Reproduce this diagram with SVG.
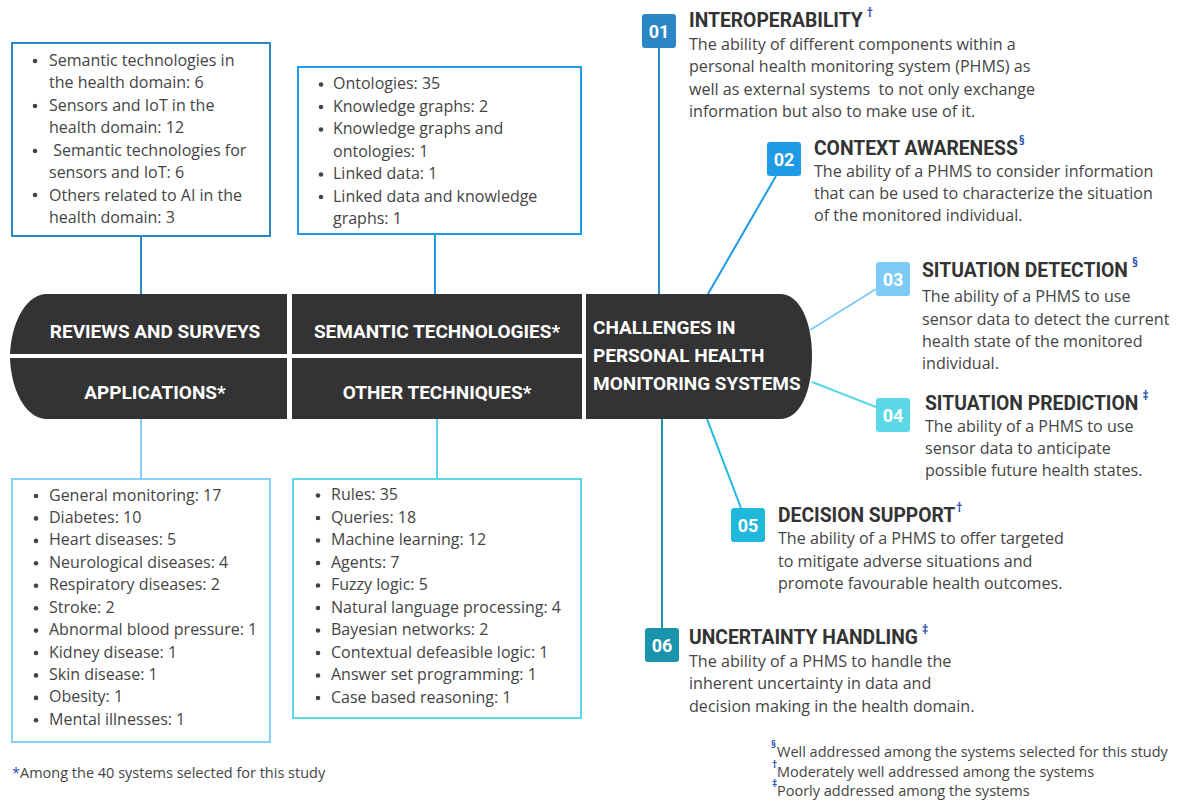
<svg xmlns="http://www.w3.org/2000/svg" width="1180" height="801" viewBox="0 0 1180 801">
<style>
.bar{fill:#333333}
.bt{font-family:Roboto,"Liberation Sans",sans-serif;font-weight:700;font-size:19px;fill:#ffffff}
.li{font-family:"Open Sans","Liberation Sans",sans-serif;font-size:16px;fill:#444444}
.bul{fill:#444444}
.ttl{font-family:Roboto,"Liberation Sans",sans-serif;font-weight:700;font-size:19.3px;fill:#333333}
.sup{font-family:"Open Sans","Liberation Sans",sans-serif;font-weight:700;font-size:12px;fill:#1f4fb5}
.desc{font-family:"Open Sans","Liberation Sans",sans-serif;font-size:16.1px;fill:#444444}
.num{font-family:Roboto,"Liberation Sans",sans-serif;font-weight:700;font-size:18px;fill:#ffffff;text-anchor:middle}
.box{fill:#ffffff;stroke-width:2}
.foot{font-family:"Open Sans","Liberation Sans",sans-serif;font-size:14.5px;fill:#444444}
.fs{font-family:"Open Sans","Liberation Sans",sans-serif;font-weight:700;font-size:10px;fill:#1f4fb5}
.con{fill:none;stroke-width:2}
</style>
<rect width="1180" height="801" fill="#ffffff"/>

<g id="connectors">
<line class="con" x1="141" y1="236" x2="141" y2="294" stroke="#2a86c4"/>
<line class="con" x1="435" y1="234" x2="435" y2="294" stroke="#1e9be6"/>
<line class="con" x1="141" y1="419" x2="141" y2="479" stroke="#87cefa"/>
<line class="con" x1="437" y1="419" x2="437" y2="479" stroke="#5ad8e6"/>
<line class="con" x1="659" y1="48" x2="659" y2="294" stroke="#2a86c4"/>
<line class="con" x1="776" y1="176" x2="708" y2="294" stroke="#1e9be6"/>
<line class="con" x1="876" y1="289" x2="810" y2="330" stroke="#7ecbf7"/>
<line class="con" x1="876" y1="407" x2="812" y2="382" stroke="#5ad8e6"/>
<line class="con" x1="741" y1="508" x2="707" y2="419" stroke="#1fb8dc"/>
<line class="con" x1="662" y1="419" x2="662" y2="628" stroke="#1a94ad"/>
</g>

<g id="reviews">
<path class="bar" d="M287,294 L45,294 C24,296 11,326 10,354 L287,354 Z"/>
<text class="bt" x="155" y="338" text-anchor="middle">REVIEWS AND SURVEYS</text>
</g>
<g id="applications">
<path class="bar" d="M287,358 L10,358 C11,388 24,417 45,419 L287,419 Z"/>
<text class="bt" x="155" y="399" text-anchor="middle">APPLICATIONS*</text>
</g>
<g id="semantic">
<rect class="bar" x="292" y="294" width="290" height="60"/>
<text class="bt" x="437" y="338" text-anchor="middle">SEMANTIC TECHNOLOGIES*</text>
</g>
<g id="other">
<rect class="bar" x="292" y="358" width="290" height="61"/>
<text class="bt" x="437" y="399" text-anchor="middle">OTHER TECHNIQUES*</text>
</g>
<g id="challenges">
<path class="bar" d="M586,294 L780,294 C800,294 812,322 812,356 C812,392 800,419 780,419 L586,419 Z"/>
<text class="bt" x="593" y="334">CHALLENGES IN</text>
<text class="bt" x="593" y="362">PERSONAL HEALTH</text>
<text class="bt" x="593" y="390">MONITORING SYSTEMS</text>
</g>

<g id="reviews-list">
<rect class="box" x="12" y="43" width="258" height="193" stroke="#2a86c4"/>
<g class="bul">
<circle cx="35" cy="61" r="2.3"/><circle cx="35" cy="106" r="2.3"/><circle cx="35" cy="151" r="2.3"/><circle cx="35" cy="195" r="2.3"/>
</g>
<text class="li" x="49" y="65.5">Semantic technologies in</text>
<text class="li" x="49" y="88">the health domain: 6</text>
<text class="li" x="49" y="110.5">Sensors and IoT in the</text>
<text class="li" x="49" y="133">health domain: 12</text>
<text class="li" x="49" y="155.5" xml:space="preserve"> Semantic technologies for</text>
<text class="li" x="49" y="178">sensors and IoT: 6</text>
<text class="li" x="49" y="200.5">Others related to AI in the</text>
<text class="li" x="49" y="223">health domain: 3</text>
</g>

<g id="semantic-list">
<rect class="box" x="298" y="67" width="283" height="167" stroke="#1e9be6"/>
<g class="bul">
<circle cx="321" cy="84.5" r="2.3"/><circle cx="321" cy="107" r="2.3"/><circle cx="321" cy="129.5" r="2.3"/><circle cx="321" cy="174.5" r="2.3"/><circle cx="321" cy="197" r="2.3"/>
</g>
<text class="li" x="333" y="89">Ontologies: 35</text>
<text class="li" x="333" y="111.5">Knowledge graphs: 2</text>
<text class="li" x="333" y="134">Knowledge graphs and</text>
<text class="li" x="333" y="156.5">ontologies: 1</text>
<text class="li" x="333" y="179">Linked data: 1</text>
<text class="li" x="333" y="201.5">Linked data and knowledge</text>
<text class="li" x="333" y="224">graphs: 1</text>
</g>

<g id="applications-list">
<rect class="box" x="12" y="479" width="258" height="263" stroke="#87cefa"/>
<g class="bul">
<circle cx="36" cy="496" r="2.3"/><circle cx="36" cy="518.4" r="2.3"/><circle cx="36" cy="540.9" r="2.3"/><circle cx="36" cy="563.3" r="2.3"/><circle cx="36" cy="585.7" r="2.3"/><circle cx="36" cy="608.2" r="2.3"/><circle cx="36" cy="630.6" r="2.3"/><circle cx="36" cy="653" r="2.3"/><circle cx="36" cy="675.4" r="2.3"/><circle cx="36" cy="697.9" r="2.3"/><circle cx="36" cy="720.3" r="2.3"/>
</g>
<text class="li" x="49" y="500.5">General monitoring: 17</text>
<text class="li" x="49" y="522.9">Diabetes: 10</text>
<text class="li" x="49" y="545.4">Heart diseases: 5</text>
<text class="li" x="49" y="567.8">Neurological diseases: 4</text>
<text class="li" x="49" y="590.2">Respiratory diseases: 2</text>
<text class="li" x="49" y="612.7">Stroke: 2</text>
<text class="li" x="49" y="635.1">Abnormal blood pressure: 1</text>
<text class="li" x="49" y="657.5">Kidney disease: 1</text>
<text class="li" x="49" y="679.9">Skin disease: 1</text>
<text class="li" x="49" y="702.4">Obesity: 1</text>
<text class="li" x="49" y="724.8">Mental illnesses: 1</text>
</g>

<g id="other-list">
<rect class="box" x="293" y="479" width="288" height="239" stroke="#5ad8e6"/>
<g class="bul">
<circle cx="318" cy="495.5" r="2.3"/><circle cx="318" cy="518" r="2.3"/><circle cx="318" cy="540.5" r="2.3"/><circle cx="318" cy="563" r="2.3"/><circle cx="318" cy="585.5" r="2.3"/><circle cx="318" cy="608" r="2.3"/><circle cx="318" cy="630.5" r="2.3"/><circle cx="318" cy="653" r="2.3"/><circle cx="318" cy="675.5" r="2.3"/><circle cx="318" cy="698" r="2.3"/>
</g>
<text class="li" x="331" y="500">Rules: 35</text>
<text class="li" x="331" y="522.5">Queries: 18</text>
<text class="li" x="331" y="545">Machine learning: 12</text>
<text class="li" x="331" y="567.5">Agents: 7</text>
<text class="li" x="331" y="590">Fuzzy logic: 5</text>
<text class="li" x="331" y="612.5">Natural language processing: 4</text>
<text class="li" x="331" y="635">Bayesian networks: 2</text>
<text class="li" x="331" y="657.5">Contextual defeasible logic: 1</text>
<text class="li" x="331" y="680">Answer set programming: 1</text>
<text class="li" x="331" y="702.5">Case based reasoning: 1</text>
</g>

<g id="c01">
<rect x="642" y="14" width="34" height="34" rx="3" fill="#2a86c4"/>
<text class="num" x="659" y="38">01</text>
<text class="ttl" x="689" y="27">INTEROPERABILITY<tspan class="sup" dx="4" dy="-10">†</tspan></text>
<text class="desc" x="689" y="49.5">The ability of different components within a</text>
<text class="desc" x="689" y="72">personal health monitoring system (PHMS) as</text>
<text class="desc" x="689" y="94.5" xml:space="preserve">well as external systems  to not only exchange</text>
<text class="desc" x="689" y="117">information but also to make use of it.</text>
</g>
<g id="c02">
<rect x="767" y="142" width="34" height="34" rx="3" fill="#1e9be6"/>
<text class="num" x="784" y="166">02</text>
<text class="ttl" x="814" y="155">CONTEXT AWARENESS<tspan class="sup" dx="1" dy="-10">§</tspan></text>
<text class="desc" x="814" y="177">The ability of a PHMS to consider information</text>
<text class="desc" x="814" y="199">that can be used to characterize the situation</text>
<text class="desc" x="814" y="221">of the monitored individual.</text>
</g>
<g id="c03">
<rect x="876" y="262" width="34" height="34" rx="3" fill="#7ecbf7"/>
<text class="num" x="893" y="286">03</text>
<text class="ttl" x="922" y="277">SITUATION DETECTION<tspan class="sup" dx="4" dy="-10">§</tspan></text>
<text class="desc" x="922" y="301.5">The ability of a PHMS to use</text>
<text class="desc" x="922" y="324.5">sensor data to detect the current</text>
<text class="desc" x="922" y="346.5">health state of the monitored</text>
<text class="desc" x="922" y="368.5">individual.</text>
</g>
<g id="c04">
<rect x="876" y="398" width="34" height="34" rx="3" fill="#5ad8e6"/>
<text class="num" x="893" y="422">04</text>
<text class="ttl" x="925" y="410">SITUATION PREDICTION<tspan class="sup" dx="4" dy="-10">‡</tspan></text>
<text class="desc" x="925" y="432">The ability of a PHMS to use</text>
<text class="desc" x="925" y="454">sensor data to anticipate</text>
<text class="desc" x="925" y="476">possible future health states.</text>
</g>
<g id="c05">
<rect x="731" y="508" width="34" height="34" rx="3" fill="#1fb8dc"/>
<text class="num" x="748" y="532">05</text>
<text class="ttl" x="778" y="522">DECISION SUPPORT<tspan class="sup" dx="1" dy="-10">†</tspan></text>
<text class="desc" x="778" y="544">The ability of a PHMS to offer targeted</text>
<text class="desc" x="778" y="566.5">to mitigate adverse situations and</text>
<text class="desc" x="778" y="588.5">promote favourable health outcomes.</text>
</g>
<g id="c06">
<rect x="645" y="628" width="34" height="34" rx="3" fill="#1a94ad"/>
<text class="num" x="662" y="652">06</text>
<text class="ttl" x="689" y="644">UNCERTAINTY HANDLING<tspan class="sup" dx="4" dy="-10">‡</tspan></text>
<text class="desc" x="689" y="667">The ability of a PHMS to handle the</text>
<text class="desc" x="689" y="689">inherent uncertainty in data and</text>
<text class="desc" x="689" y="711.5">decision making in the health domain.</text>
</g>

<g id="footnotes">
<text class="foot" x="12" y="778"><tspan fill="#1f4fb5">*</tspan>Among the 40 systems selected for this study</text>
<text class="fs" x="771" y="748">§</text>
<text class="foot" x="777" y="757">Well addressed among the systems selected for this study</text>
<text class="fs" x="772" y="768">†</text>
<text class="foot" x="777" y="777">Moderately well addressed among the systems</text>
<text class="fs" x="772" y="787">‡</text>
<text class="foot" x="777" y="796">Poorly addressed among the systems</text>
</g>
</svg>
